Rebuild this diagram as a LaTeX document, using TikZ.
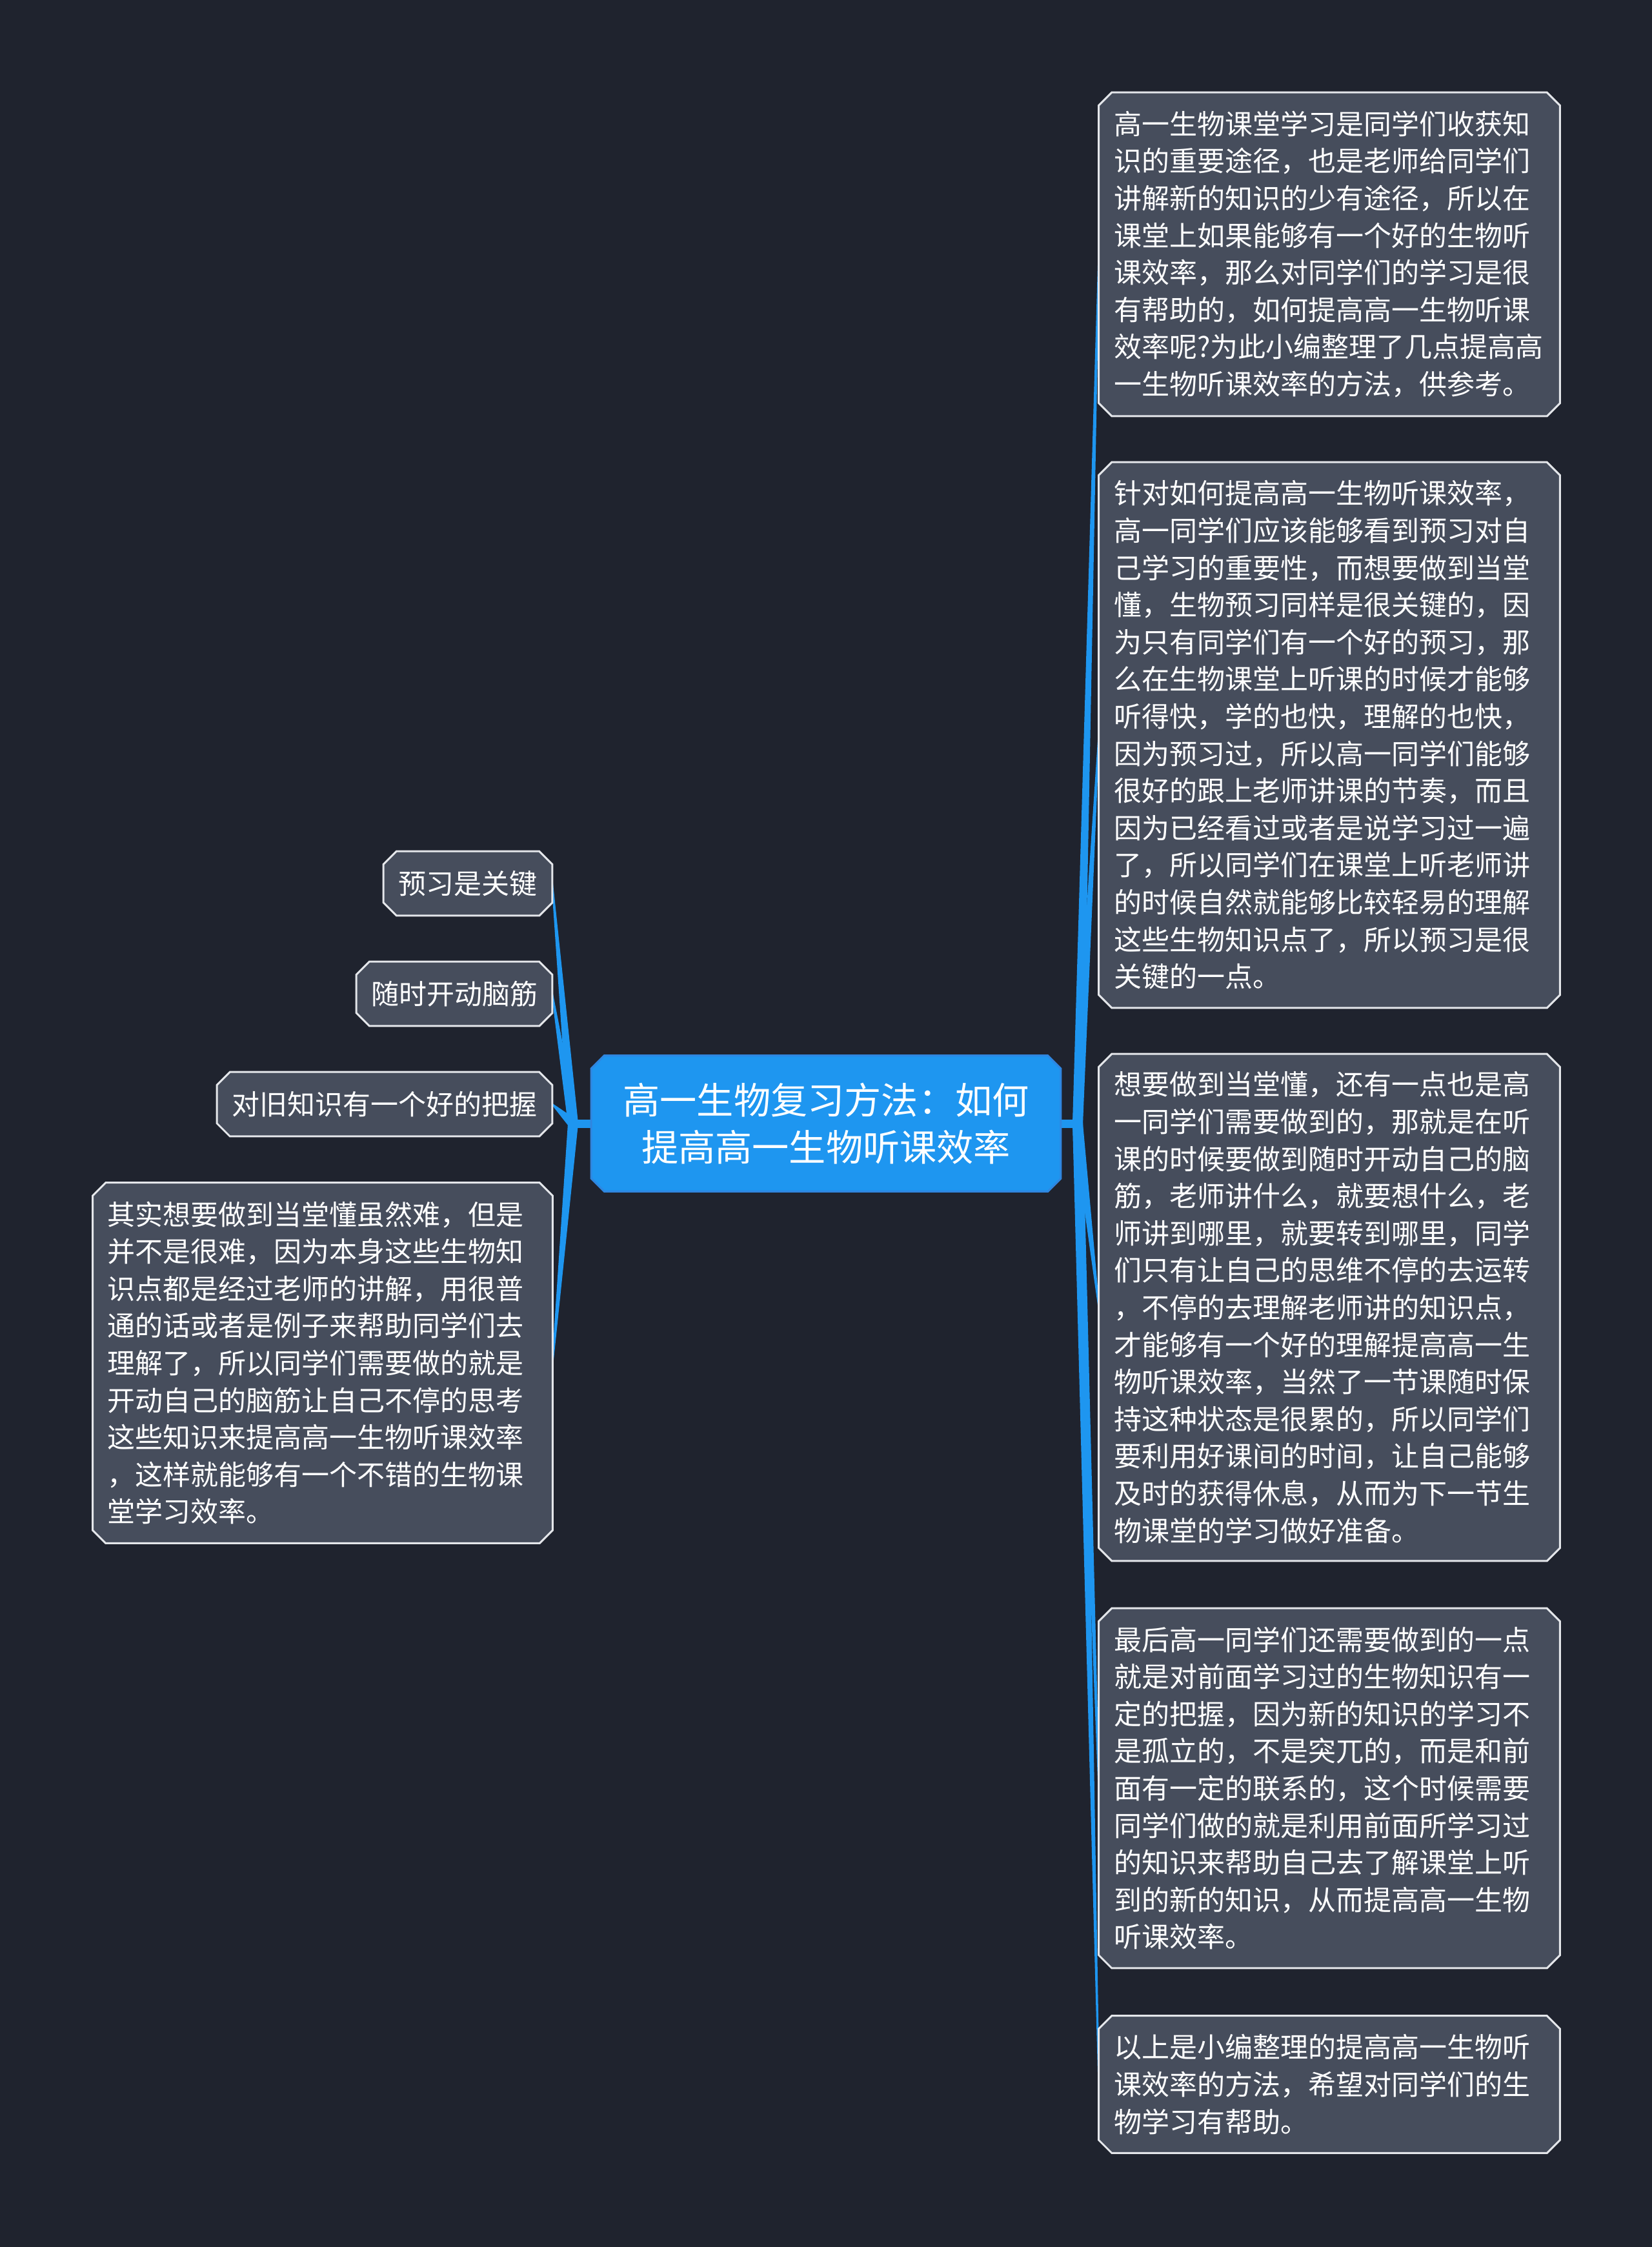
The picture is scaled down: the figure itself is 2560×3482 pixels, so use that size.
\documentclass[tikz,border=0pt]{standalone}
\usepackage{fontspec}
\newfontfamily\cjk{Noto Sans CJK SC}
\usetikzlibrary{calc}
\pgfdeclarelayer{bg}
\pgfsetlayers{bg,main}
\definecolor{bgc}{HTML}{1F232E}
\definecolor{nodefill}{HTML}{464D5C}
\definecolor{nodeline}{HTML}{E4E6EA}
\definecolor{cfill}{HTML}{1E96F0}
\definecolor{cline}{HTML}{2F86E0}
\definecolor{conn}{HTML}{1E96F0}

\newcommand{\chamfbox}[2]{%
  \path[#2] ([xshift=5pt]#1.north west) -- ([xshift=-5pt]#1.north east) -- ([yshift=-5pt]#1.north east) -- ([yshift=5pt]#1.south east) -- ([xshift=-5pt]#1.south east) -- ([xshift=5pt]#1.south west) -- ([yshift=5pt]#1.south west) -- ([yshift=-5pt]#1.north west) -- cycle;}
\newcommand{\taper}[2]{%
  \fill[conn] ($(#1)!2pt!90:(#2)$) -- ($(#2)!0.3pt!-90:(#1)$) -- ($(#2)!0.3pt!90:(#1)$) -- ($(#1)!2pt!-90:(#2)$) -- cycle;}

\tikzset{
  body/.style={inner sep=0pt, text=white, font=\cjk\fontsize{10.75pt}{14.4pt}\selectfont, align=left, text width=166.75pt, minimum width=178.25pt},
  short/.style={inner sep=0pt, text=white, font=\cjk\fontsize{10.75pt}{14.4pt}\selectfont, align=center, minimum height=24.5pt},
  hubnode/.style={inner sep=0pt, text=white, font=\cjk\fontsize{14.3pt}{18.3pt}\selectfont, align=center, minimum width=181.5pt, minimum height=52.25pt},
  boxstyle/.style={fill=nodefill, draw=nodeline, line width=0.75pt},
  cstyle/.style={fill=cfill, draw=cline, line width=0.75pt},
}

\begin{document}
\begin{tikzpicture}[x=0.25pt, y=-0.25pt]
\useasboundingbox (0,0) rectangle (2560,3482);

% central
\node[hubnode] (C) at (1280,1741) {高一生物复习方法：如何\\提高高一生物听课效率};

% left
\node[short, minimum width=65pt] (L1) at (725,1369) {预习是关键};
\node[short, minimum width=75.5pt] (L2) at (704,1540) {随时开动脑筋};
\node[short, minimum width=129.5pt] (L3) at (596,1711) {对旧知识有一个好的把握};
\node[body, minimum width=177.75pt, minimum height=139.25pt] (L4) at (500,2112) {其实想要做到当堂懂虽然难，但是\\
并不是很难，因为本身这些生物知\\
识点都是经过老师的讲解，用很普\\
通的话或者是例子来帮助同学们去\\
理解了，所以同学们需要做的就是\\
开动自己的脑筋让自己不停的思考\\
这些知识来提高高一生物听课效率\\
，这样就能够有一个不错的生物课\\
堂学习效率。};

% right
\node[body, minimum height=125pt] (R1) at (2060,394) {高一生物课堂学习是同学们收获知\\
识的重要途径，也是老师给同学们\\
讲解新的知识的少有途径，所以在\\
课堂上如果能够有一个好的生物听\\
课效率，那么对同学们的学习是很\\
有帮助的，如何提高高一生物听课\\
效率呢?为此小编整理了几点提高高\\
一生物听课效率的方法，供参考。};

\node[body, minimum height=211pt] (R2) at (2060,1139) {针对如何提高高一生物听课效率，\\
高一同学们应该能够看到预习对自\\
己学习的重要性，而想要做到当堂\\
懂，生物预习同样是很关键的，因\\
为只有同学们有一个好的预习，那\\
么在生物课堂上听课的时候才能够\\
听得快，学的也快，理解的也快，\\
因为预习过，所以高一同学们能够\\
很好的跟上老师讲课的节奏，而且\\
因为已经看过或者是说学习过一遍\\
了，所以同学们在课堂上听老师讲\\
的时候自然就能够比较轻易的理解\\
这些生物知识点了，所以预习是很\\
关键的一点。};

\node[body, minimum height=196pt] (R3) at (2060,2026) {想要做到当堂懂，还有一点也是高\\
一同学们需要做到的，那就是在听\\
课的时候要做到随时开动自己的脑\\
筋，老师讲什么，就要想什么，老\\
师讲到哪里，就要转到哪里，同学\\
们只有让自己的思维不停的去运转\\
，不停的去理解老师讲的知识点，\\
才能够有一个好的理解提高高一生\\
物听课效率，当然了一节课随时保\\
持这种状态是很累的，所以同学们\\
要利用好课间的时间，让自己能够\\
及时的获得休息，从而为下一节生\\
物课堂的学习做好准备。};

\node[body, minimum height=139pt] (R4) at (2060,2771) {最后高一同学们还需要做到的一点\\
就是对前面学习过的生物知识有一\\
定的把握，因为新的知识的学习不\\
是孤立的，不是突兀的，而是和前\\
面有一定的联系的，这个时候需要\\
同学们做的就是利用前面所学习过\\
的知识来帮助自己去了解课堂上听\\
到的新的知识，从而提高高一生物\\
听课效率。};

\node[body, minimum height=52.75pt] (R5) at (2060,3230) {以上是小编整理的提高高一生物听\\
课效率的方法，希望对同学们的生\\
物学习有帮助。};

\coordinate (hubL) at (888,1741);
\coordinate (hubR) at (1670,1741);

\begin{pgfonlayer}{bg}
  \fill[bgc] (0,0) rectangle (2560,3482);
  \draw[conn, line width=3.25pt] (C.west) -- (hubL);
  \draw[conn, line width=3.25pt] (C.east) -- (hubR);
  \taper{hubL}{L1.east}
  \taper{hubL}{L2.east}
  \taper{hubL}{L3.east}
  \taper{hubL}{L4.east}
  \taper{hubR}{R1.west}
  \taper{hubR}{R2.west}
  \taper{hubR}{R3.west}
  \taper{hubR}{R4.west}
  \taper{hubR}{R5.west}
  \chamfbox{C}{cstyle}
  \chamfbox{L1}{boxstyle}
  \chamfbox{L2}{boxstyle}
  \chamfbox{L3}{boxstyle}
  \chamfbox{L4}{boxstyle}
  \chamfbox{R1}{boxstyle}
  \chamfbox{R2}{boxstyle}
  \chamfbox{R3}{boxstyle}
  \chamfbox{R4}{boxstyle}
  \chamfbox{R5}{boxstyle}
\end{pgfonlayer}
\end{tikzpicture}
\end{document}
